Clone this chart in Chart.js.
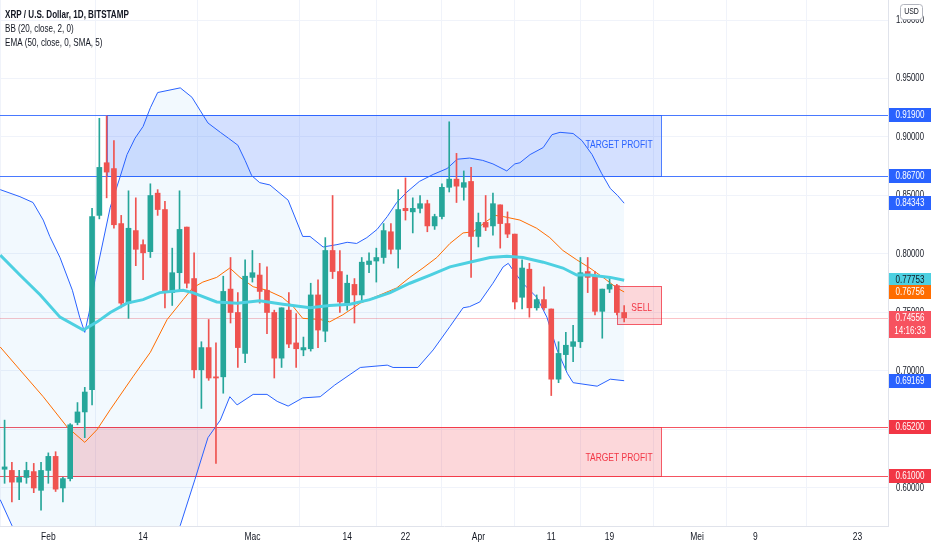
<!DOCTYPE html>
<html>
<head>
<meta charset="utf-8">
<script src="https://cdn.jsdelivr.net/npm/chart.js@4.4.1/dist/chart.umd.min.js"></script>
<style>
  html, body { margin: 0; padding: 0; background: #ffffff; }
  #wrap { position: relative; width: 932px; height: 550px; }
</style>
</head>
<body>
<div id="wrap"><canvas id="xrpChart"></canvas></div>
<script>
// ---- data (day 0 = 1 Feb) ----
const firstDay = -6;
const opens  = [0.616,0.615,0.605,0.609,0.614,0.598,0.615,0.627,0.600,0.608,0.656,0.665,0.684,0.833,0.878,0.873,0.826,0.758,0.820,0.808,0.802,0.852,0.838,0.767,0.784,0.823,0.779,0.701,0.720,0.695,0.695,0.770,0.750,0.715,0.780,0.782,0.769,0.750,0.711,0.752,0.724,0.718,0.719,0.765,0.734,0.803,0.785,0.757,0.774,0.765,0.791,0.794,0.797,0.819,0.804,0.839,0.836,0.839,0.843,0.824,0.832,0.857,0.864,0.857,0.862,0.815,0.827,0.824,0.842,0.826,0.817,0.763,0.787,0.754,0.761,0.753,0.693,0.714,0.721,0.725,0.785,0.781,0.751,0.770,0.773,0.750];
const highs  = [0.658,0.622,0.615,0.622,0.621,0.622,0.630,0.631,0.609,0.655,0.673,0.686,0.839,0.916,0.918,0.897,0.833,0.854,0.848,0.812,0.860,0.855,0.845,0.805,0.854,0.823,0.801,0.725,0.744,0.724,0.781,0.797,0.767,0.795,0.803,0.792,0.789,0.752,0.754,0.767,0.749,0.729,0.775,0.778,0.814,0.850,0.803,0.782,0.779,0.797,0.801,0.805,0.826,0.826,0.855,0.865,0.848,0.850,0.846,0.834,0.860,0.913,0.886,0.871,0.874,0.835,0.850,0.852,0.842,0.836,0.817,0.795,0.792,0.765,0.772,0.753,0.725,0.733,0.739,0.797,0.797,0.785,0.770,0.780,0.774,0.756];
const lows   = [0.604,0.588,0.590,0.604,0.596,0.581,0.604,0.597,0.588,0.606,0.654,0.643,0.671,0.830,0.848,0.822,0.754,0.745,0.790,0.778,0.797,0.833,0.754,0.756,0.769,0.771,0.694,0.668,0.692,0.621,0.681,0.741,0.703,0.707,0.776,0.758,0.732,0.694,0.703,0.720,0.703,0.713,0.717,0.720,0.725,0.779,0.750,0.752,0.741,0.759,0.784,0.776,0.792,0.800,0.788,0.829,0.818,0.835,0.819,0.821,0.830,0.853,0.844,0.846,0.780,0.806,0.820,0.816,0.805,0.814,0.753,0.753,0.746,0.752,0.752,0.679,0.690,0.701,0.708,0.720,0.767,0.748,0.728,0.767,0.748,0.742];
const closes = [0.618,0.605,0.609,0.615,0.600,0.615,0.627,0.599,0.608,0.654,0.665,0.682,0.832,0.874,0.870,0.825,0.758,0.822,0.804,0.801,0.850,0.838,0.767,0.784,0.821,0.775,0.701,0.720,0.694,0.694,0.768,0.750,0.720,0.781,0.784,0.768,0.750,0.711,0.754,0.723,0.719,0.720,0.765,0.735,0.803,0.785,0.759,0.775,0.765,0.793,0.794,0.797,0.820,0.804,0.838,0.837,0.839,0.843,0.824,0.832,0.857,0.864,0.858,0.861,0.815,0.827,0.823,0.843,0.826,0.817,0.759,0.788,0.754,0.761,0.754,0.693,0.715,0.722,0.725,0.784,0.780,0.751,0.770,0.774,0.750,0.74556];

// Bollinger upper / lower, BB basis (orange) and EMA 50 (teal)
const bbUpperDays = [-6.6,-3.9,-2.1,-0.7,0.2,1.6,3.3,4.3,5.0,5.6,6.4,8.5,9.8,10.8,11.9,13.0,14.0,15.0,18.1,19.7,20.8,21.9,23.6,24.7,26.0,27.0,27.9,29.0,30.4,32.9,34.9,35.9,37.7,39.6,41.0,42.3,43.7,45.1,46.5,47.8,49.2,50.9,52.8,54.7,56.1,57.8,59.6,61.0,62.9,64.0,64.7,66.1,67.9,69.1,70.2,72.0,73.2,74.6,75.9,77.1,78.1,79];
const bbUpperVals = [0.855,0.849,0.844,0.829,0.815,0.797,0.769,0.746,0.733,0.750,0.778,0.840,0.865,0.885,0.899,0.909,0.925,0.938,0.942,0.934,0.923,0.912,0.904,0.899,0.893,0.880,0.867,0.861,0.859,0.846,0.815,0.815,0.806,0.808,0.810,0.809,0.814,0.821,0.832,0.844,0.853,0.862,0.868,0.873,0.881,0.882,0.880,0.877,0.871,0.877,0.878,0.885,0.891,0.902,0.904,0.903,0.897,0.885,0.869,0.856,0.850,0.84343];
const bbLowerDays = [-6.6,-5.0,-3,0,3,5,6.4,8.5,11.6,14,15,16.3,18.1,20.1,21.9,23.6,24.9,25.9,28.1,30.0,31.4,32.9,34.9,37.3,39.3,41.4,42.8,46.5,47.3,50.7,52.8,55.1,56.9,57.8,59.2,61.0,62.4,63.1,64.0,65.1,67.0,68.4,69.8,71.2,72.0,75.3,77.1,79];
const bbLowerVals = [0.590,0.568,0.544,0.528,0.533,0.545,0.516,0.494,0.495,0.507,0.514,0.548,0.568,0.607,0.643,0.658,0.678,0.671,0.680,0.680,0.674,0.670,0.677,0.678,0.688,0.697,0.703,0.705,0.703,0.703,0.718,0.738,0.754,0.755,0.759,0.775,0.789,0.792,0.784,0.775,0.763,0.746,0.718,0.698,0.690,0.687,0.693,0.69169];
const basisDays = [-6.6,-3.9,-0.7,2.6,5.0,6.7,8.5,11.6,14.0,16.3,18.5,19.8,21.2,23.1,24.9,26.3,28.1,30.0,32.1,33.6,34.9,37.3,38.6,40.4,42.8,45.5,47.8,49.6,51.4,53.3,55.1,56.9,58.3,59.9,61.3,62.4,64.7,67.0,68.8,70.6,72.5,74.3,76.1,78.0,79];
const basisVals = [0.7205,0.701,0.678,0.652,0.639,0.650,0.667,0.695,0.716,0.744,0.761,0.771,0.776,0.780,0.788,0.780,0.772,0.769,0.763,0.755,0.745,0.744,0.742,0.748,0.758,0.765,0.771,0.780,0.788,0.797,0.809,0.818,0.819,0.827,0.833,0.832,0.829,0.822,0.814,0.803,0.795,0.788,0.780,0.771,0.76756];
const emaDays = [-6.6,-3.9,-1.1,1.6,4.8,6.7,8.5,10.8,13.0,15.3,18.5,19.8,23.1,25.9,29.0,32.2,35.9,38.6,41.4,44.1,46.9,49.6,52.4,55.1,57.8,60.6,62.9,65.1,67.9,70.6,72.5,74.3,77.1,79];
const emaVals = [0.799,0.782,0.765,0.746,0.735,0.742,0.750,0.758,0.761,0.767,0.769,0.767,0.759,0.758,0.760,0.757,0.754,0.756,0.757,0.761,0.767,0.775,0.782,0.789,0.793,0.797,0.798,0.797,0.793,0.788,0.782,0.782,0.780,0.77753];

// drawn zones and levels
const blueBoxDays = [8, 84];
const blueBoxPrices = [0.867, 0.919];
const redBoxDays = [3, 84];
const redBoxPrices = [0.61, 0.652];
const sellBoxDays = [78, 84];
const sellBoxPrices = [0.740, 0.7726];
const blueLevels = [0.919, 0.867];
const redLevels = [0.652, 0.61];
const countdown = '14:16:33';

// axes
const xTickDays = [0, 13, 28, 41, 49, 59, 69, 77, 89, 97, 111];
const xTickLabels = ['Feb', '14', 'Mac', '14', '22', 'Apr', '11', '19', 'Mei', '9', '23'];
const yTicks = [0.60, 0.65, 0.70, 0.75, 0.80, 0.85, 0.90, 0.95, 1.00];

const FONT = "'Liberation Sans', Arial, sans-serif";
const SQUEEZE = 0.77; // the TradingView face is much narrower than Liberation Sans
const GREEN = '#26a69a';
const RED = '#ef5350';
const BLUE = '#2962ff';
const TEXT = '#131722';

const candleDays = opens.map((_, i) => firstDay + i);
const candleColor = (ctx) => {
    const i = ctx.dataIndex;
    return closes[i] >= opens[i] ? GREEN : RED;
};
const pts = (days, vals) => days.map((d, i) => ({x: d, y: vals[i]}));

// narrow text helper
function label(ctx, text, x, y, align, font, color) {
    ctx.save();
    ctx.font = font;
    ctx.fillStyle = color;
    ctx.textAlign = align;
    ctx.textBaseline = 'middle';
    ctx.translate(x, y);
    ctx.scale(SQUEEZE, 1);
    ctx.fillText(text, 0, 0);
    ctx.restore();
}

const overlay = {
    id: 'overlay',
    beforeDatasetsDraw(chart) {
        const {ctx, chartArea: a, scales: {x, y}} = chart;
        ctx.save();
        ctx.beginPath();
        ctx.rect(a.left, a.top, a.right - a.left, a.bottom - a.top);
        ctx.clip();

        const box = (days, prices, fill, stroke) => {
            const x1 = Math.round(x.getPixelForValue(days[0])) + 0.5;
            const x2 = Math.round(x.getPixelForValue(days[1])) + 0.5;
            const y1 = Math.round(y.getPixelForValue(prices[1])) + 0.5;
            const y2 = Math.round(y.getPixelForValue(prices[0])) + 0.5;
            ctx.fillStyle = fill;
            ctx.fillRect(x1, y1, x2 - x1, y2 - y1);
            ctx.strokeStyle = stroke;
            ctx.lineWidth = 1;
            ctx.strokeRect(x1, y1, x2 - x1, y2 - y1);
        };
        box(blueBoxDays, blueBoxPrices, 'rgba(41,98,255,0.2)', 'rgba(41,98,255,0.8)');
        box(redBoxDays, redBoxPrices, 'rgba(242,54,69,0.2)', 'rgba(242,54,69,0.8)');
        box(sellBoxDays, sellBoxPrices, 'rgba(242,54,69,0.2)', 'rgba(242,54,69,0.8)');

        const hline = (v, color) => {
            const py = Math.round(y.getPixelForValue(v)) + 0.5;
            ctx.strokeStyle = color;
            ctx.beginPath();
            ctx.moveTo(a.left, py);
            ctx.lineTo(a.right, py);
            ctx.stroke();
        };
        blueLevels.forEach(v => hline(v, 'rgba(41,98,255,0.85)'));
        redLevels.forEach(v => hline(v, 'rgba(242,54,69,0.85)'));
        hline(closes[closes.length - 1], 'rgba(242,54,69,0.3)');

        // zone captions
        const bx2 = x.getPixelForValue(blueBoxDays[1]) - 8;
        label(ctx, 'TARGET PROFIT', bx2, y.getPixelForValue((blueBoxPrices[0] + blueBoxPrices[1]) / 2),
            'right', '11px ' + FONT, BLUE);
        label(ctx, 'TARGET PROFIT', bx2, y.getPixelForValue((redBoxPrices[0] + redBoxPrices[1]) / 2) + 6,
            'right', '11px ' + FONT, '#f23645');
        label(ctx, 'SELL', x.getPixelForValue((sellBoxDays[0] + sellBoxDays[1]) / 2) + 3,
            y.getPixelForValue((sellBoxPrices[0] + sellBoxPrices[1]) / 2) + 3, 'center', '11px ' + FONT, '#f23645');
        ctx.restore();
    },
    afterDraw(chart) {
        const {ctx, chartArea: a, scales: {x, y}} = chart;
        const axisX = a.right + 22;

        // scale tick labels
        y.ticks.forEach(t => label(ctx, t.value.toFixed(5), axisX, y.getPixelForValue(t.value), 'center', '10px ' + FONT, TEXT));
        x.ticks.forEach(t => label(ctx, xTickLabels[xTickDays.indexOf(t.value)], x.getPixelForValue(t.value), a.bottom + 11,
            'center', '11px ' + FONT, TEXT));

        // price labels on the scale
        const tag = (v, bg, fg, extra) => {
            const py = Math.round(y.getPixelForValue(v));
            const h = extra ? 27 : 14;
            ctx.fillStyle = bg;
            ctx.fillRect(a.right + 1, py - 7, 42, h);
            label(ctx, v.toFixed(5), axisX, py, 'center', '10.5px ' + FONT, fg);
            if (extra) label(ctx, extra, axisX, py + 13, 'center', '10.5px ' + FONT, fg);
        };
        blueLevels.forEach(v => tag(v, BLUE, '#ffffff'));
        tag(bbUpperVals[bbUpperVals.length - 1], BLUE, '#ffffff');
        tag(emaVals[emaVals.length - 1], '#4dd0e1', TEXT);
        tag(basisVals[basisVals.length - 1], '#ff6d00', '#ffffff');
        tag(closes[closes.length - 1], '#f7525f', '#ffffff', countdown);
        tag(bbLowerVals[bbLowerVals.length - 1], BLUE, '#ffffff');
        redLevels.forEach(v => tag(v, '#f23645', '#ffffff'));

        // USD badge
        ctx.save();
        ctx.fillStyle = '#ffffff';
        ctx.strokeStyle = '#b2b5be';
        ctx.lineWidth = 1;
        ctx.beginPath();
        ctx.roundRect(900.5, 4.5, 22, 15, 3);
        ctx.fill();
        ctx.stroke();
        ctx.restore();
        label(ctx, 'USD', 911.5, 12, 'center', '9px ' + FONT, TEXT);

        // legend lines
        label(ctx, 'XRP / U.S. Dollar, 1D, BITSTAMP', 5, 15, 'left', 'bold 10.5px ' + FONT, TEXT);
        label(ctx, 'BB (20, close, 2, 0)', 5, 29, 'left', '10.5px ' + FONT, TEXT);
        label(ctx, 'EMA (50, close, 0, SMA, 5)', 5, 43, 'left', '10.5px ' + FONT, TEXT);
    }
};

new Chart(document.getElementById('xrpChart'), {
    data: {
        datasets: [
            {
                type: 'bar',
                data: candleDays.map((d, i) => ({x: d, y: [opens[i], closes[i]]})),
                backgroundColor: candleColor,
                barThickness: 5,
                minBarLength: 1,
                grouped: false,
                order: 1
            },
            {
                type: 'bar',
                data: candleDays.map((d, i) => ({x: d, y: [lows[i], highs[i]]})),
                backgroundColor: candleColor,
                barThickness: 1,
                grouped: false,
                order: 2
            },
            {
                type: 'line',
                data: pts(emaDays, emaVals),
                borderColor: '#4dd0e1',
                borderWidth: 3,
                pointRadius: 0,
                order: 0
            },
            {
                type: 'line',
                data: pts(basisDays, basisVals),
                borderColor: '#ff6d00',
                borderWidth: 1,
                pointRadius: 0,
                order: 3
            },
            {
                type: 'line',
                data: pts(bbUpperDays, bbUpperVals),
                borderColor: BLUE,
                borderWidth: 1,
                pointRadius: 0,
                order: 4
            },
            {
                type: 'line',
                data: pts(bbLowerDays, bbLowerVals),
                borderColor: BLUE,
                borderWidth: 1,
                pointRadius: 0,
                fill: '-1',
                backgroundColor: 'rgba(33,150,243,0.06)',
                order: 5
            }
        ]
    },
    options: {
        responsive: true,
        maintainAspectRatio: false,
        animation: false,
        layout: { padding: 0, autoPadding: false },
        plugins: {
            legend: { display: false },
            tooltip: { enabled: false }
        },
        scales: {
            x: {
                type: 'linear',
                min: -6.63,
                max: 115.2,
                offset: false,
                grid: { color: '#f0f3fa', drawTicks: false },
                border: { color: '#e0e3eb' },
                ticks: { display: false },
                afterBuildTicks: (s) => { s.ticks = xTickDays.map(v => ({value: v})); },
                afterFit: (s) => { s.height = 24; }
            },
            y: {
                type: 'linear',
                position: 'right',
                min: 0.5675,
                max: 1.0171,
                grid: { color: '#f0f3fa', drawTicks: false },
                border: { color: '#e0e3eb' },
                ticks: { display: false },
                afterBuildTicks: (s) => { s.ticks = yTicks.map(v => ({value: v})); },
                afterFit: (s) => { s.width = 44; }
            }
        }
    },
    plugins: [overlay]
});
</script>
</body>
</html>
